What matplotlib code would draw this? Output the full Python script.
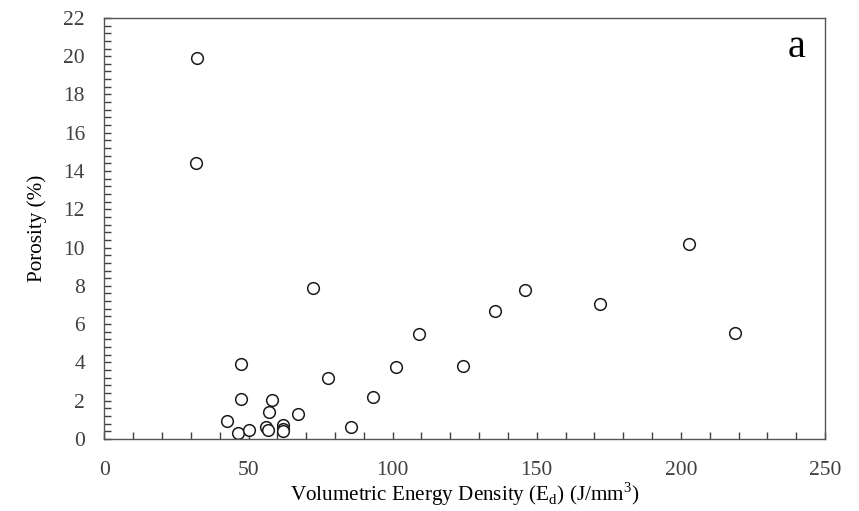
import matplotlib
matplotlib.use("Agg")
import matplotlib.pyplot as plt
from matplotlib.ticker import MultipleLocator

# Energy density (J/mm^3) and porosity (%)
energy_density = [32.1, 31.7, 72.3, 47.3, 47.3, 58.3, 57.0, 67.3, 77.7, 93.3,
                  101.1, 42.6, 46.4, 50.3, 55.9, 56.9, 61.9, 61.9, 61.9, 85.6,
                  109.1, 124.3, 135.4, 145.8, 171.8, 202.7, 218.6]
porosity = [19.9, 14.4, 7.9, 3.91, 2.09, 2.04, 1.41, 1.31, 3.16, 2.18,
            3.77, 0.93, 0.33, 0.49, 0.63, 0.46, 0.72, 0.54, 0.40, 0.61,
            5.5, 3.82, 6.7, 7.8, 7.05, 10.2, 5.55]

plt.rcParams['font.family'] = ['Liberation Serif', 'DejaVu Serif']

fig = plt.figure(figsize=(8.59, 5.11), dpi=100)
ax = fig.add_axes([0.1215, 0.141, 0.839, 0.824])

ax.plot(energy_density, porosity, linestyle='none', marker='o', markersize=8.4,
        markerfacecolor='white', markeredgecolor='#1a1a1a', markeredgewidth=1.1)

ax.set_xlim(0, 250)
ax.set_ylim(0, 22)
ax.xaxis.set_major_locator(MultipleLocator(50))
ax.xaxis.set_minor_locator(MultipleLocator(10))
ax.yaxis.set_major_locator(MultipleLocator(2))
ax.yaxis.set_minor_locator(MultipleLocator(0.4))

ax.tick_params(which='both', direction='in', length=5, width=1, color='#404040',
               labelsize=15.5, labelcolor='#404040', top=False, right=False)
ax.tick_params(axis='x', pad=16)
ax.tick_params(axis='y', pad=14)
for s in ax.spines.values():
    s.set_color('#555555')
    s.set_linewidth(1)

ax.set_xlabel('Volumetric Energy Density (E$_\\mathregular{d}$) (J/mm$^\\mathregular{3}$)',
              fontsize=15.2, labelpad=0)
ax.set_ylabel('Porosity (%)', fontsize=15.2, labelpad=12)

ax.text(0.973, 0.93, 'a', transform=ax.transAxes, fontsize=29,
        ha='right', va='center')

fig.savefig('out.png', dpi=100)
